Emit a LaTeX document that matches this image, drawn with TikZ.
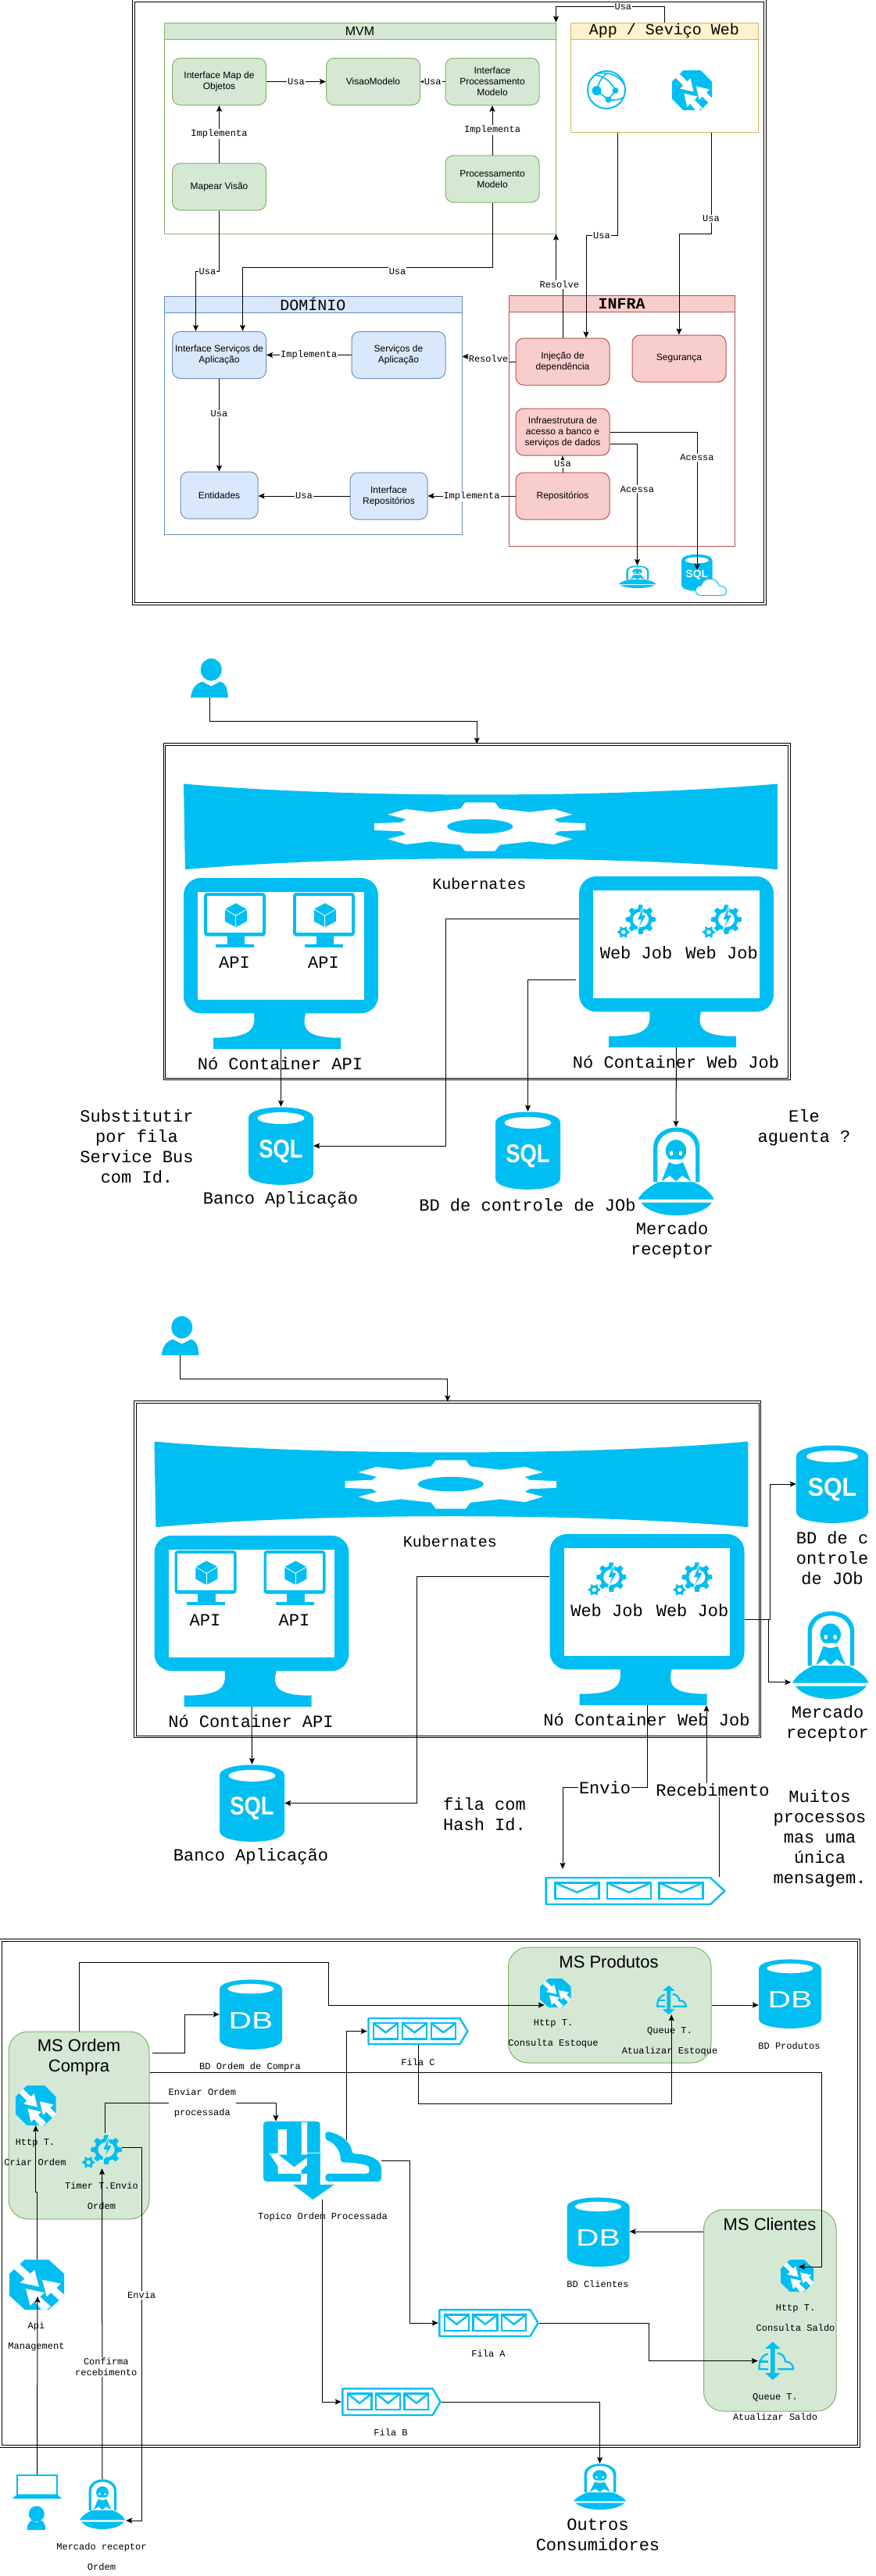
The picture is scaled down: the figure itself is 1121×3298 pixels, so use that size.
\documentclass[tikz,border=0pt]{standalone}
\usepackage{fontspec}
\setmainfont{Liberation Sans}
\setmonofont{Liberation Mono}
\usetikzlibrary{arrows.meta}
\definecolor{iconblue}{HTML}{00BEF2}
\definecolor{greenfill}{HTML}{D5E8D4}
\definecolor{greenline}{HTML}{82B366}
\definecolor{bluefill}{HTML}{DAE8FC}
\definecolor{blueline}{HTML}{6C8EBF}
\definecolor{redfill}{HTML}{F8CECC}
\definecolor{redline}{HTML}{B85450}
\definecolor{yellowfill}{HTML}{FFF2CC}
\definecolor{yellowline}{HTML}{D6B656}
\tikzstyle{every node}+=[inner sep=0pt]
\tikzstyle{line} = [draw, line width=1pt, -{Stealth[length=8pt, width=7pt, inset=1.5pt]}]
\tikzstyle{frame} = [rectangle, draw, line width=1.1pt, double, double distance=1.3pt]
\tikzstyle{block} = [rectangle, draw, line width=1pt, rounded corners=10pt, minimum width=120pt, minimum height=60pt, font=\fontsize{12}{14}\selectfont]
\tikzstyle{greenblock} = [block, fill=greenfill, draw=greenline]
\tikzstyle{blueblock} = [block, fill=bluefill, draw=blueline]
\tikzstyle{redblock} = [block, fill=redfill, draw=redline]
\tikzstyle{lane} = [rectangle, draw, line width=1pt]
\tikzstyle{lanehead} = [lane, minimum height=21pt, font=\ttfamily\fontsize{20}{22}\selectfont]
\tikzstyle{service} = [rectangle, draw=greenline, fill=greenfill, line width=1pt, rounded corners=25pt]
\tikzstyle{servicetxt} = [font=\fontsize{22}{26}\selectfont]
\tikzstyle{icon} = [rectangle]
\tikzstyle{lbl} = [font=\ttfamily\fontsize{12}{14}\selectfont, fill=white, inner sep=1pt]
\tikzstyle{smalltxt} = [font=\ttfamily\fontsize{12}{26}\selectfont]
\tikzstyle{bigtxt} = [font=\ttfamily\fontsize{22}{26}\selectfont]
\newcommand{\iconnode}[6]{%
  \pgfmathsetmacro\iw{#4-#2}\pgfmathsetmacro\ih{#5-#3}%
  \node [icon, minimum width=\iw pt, minimum height=\ih pt] (#1) at ({(#2+#4)/2},{(#3+#5)/2}) {};
  \pic [xscale=\iw/100, yscale=\ih/100] at (#2,#3) {#6};
}
\newcommand{\gearpath}[5]{%
  ({#1+#3*.76*cos(-14)},{#2+#4*.76*sin(-14)})
  \foreach \ga in {#5} {
    -- ({#1+#3*.76*cos(\ga-14)},{#2+#4*.76*sin(\ga-14)})
    -- ({#1+#3*cos(\ga-8)},{#2+#4*sin(\ga-8)})
    -- ({#1+#3*cos(\ga+8)},{#2+#4*sin(\ga+8)})
    -- ({#1+#3*.76*cos(\ga+14)},{#2+#4*.76*sin(\ga+14)})
  } -- cycle
}
\tikzset{
  pics/routericon/.style={code={
    \fill [iconblue] (28,0) -- (72,0) -- (100,28) -- (100,72) -- (72,100) -- (28,100) -- (0,72) -- (0,28) -- cycle;
    \begin{scope}
      \clip (28,0) -- (72,0) -- (100,28) -- (100,72) -- (72,100) -- (28,100) -- (0,72) -- (0,28) -- cycle;
      \fill [white] (6,16) -- (16,6) -- (38,28) -- (46,20) -- (54,54) -- (20,46) -- (28,38) -- cycle;
      \fill [white] (60,40) -- (94,48) -- (86,56) -- (102,72) -- (92,82) -- (76,66) -- (68,74) -- cycle;
      \fill [white] (30,58) -- (64,66) -- (56,74) -- (76,94) -- (62,104) -- (46,84) -- (38,92) -- cycle;
    \end{scope}
  }},
  pics/globeicon/.style={code={
    \draw [iconblue, line width=2pt] (50,50) ellipse [x radius=48, y radius=48];
    \fill [iconblue] (25,52) ellipse [x radius=12, y radius=12];
    \fill [iconblue] (73,52) ellipse [x radius=8, y radius=8];
    \fill [iconblue] (55,75) ellipse [x radius=8, y radius=8];
    \draw [iconblue, line width=1.6pt] (25,52) -- (55,75) .. controls (70,78) and (85,75) .. (92,70);
    \draw [iconblue, line width=1.6pt] (25,52) .. controls (30,35) and (35,20) .. (50,8);
    \draw [iconblue, line width=1.6pt] (20,12) .. controls (50,15) and (65,35) .. (73,52) -- (55,75);
    \draw [iconblue, line width=1.6pt] (30,8) .. controls (60,4) and (85,15) .. (96,38);
  }},
  pics/sqlicon/.style={code={
    \fill [iconblue] (0,14) .. controls (0,-4) and (100,-4) .. (100,14) -- (100,86) .. controls (100,104.5) and (0,104.5) .. (0,86) -- cycle;
    \fill [white] (50,14.5) ellipse [x radius=36, y radius=7.5];
    \node [transform shape, white, font=\bfseries\fontsize{33}{33}\selectfont] (sqlword) at (50,57) {SQL};
  }},
  pics/dbicon/.style={code={
    \fill [iconblue] (0,14) .. controls (0,-4) and (100,-4) .. (100,14) -- (100,86) .. controls (100,104.5) and (0,104.5) .. (0,86) -- cycle;
    \fill [white] (50,13.5) ellipse [x radius=37, y radius=7];
    \node [transform shape, xscale=1.5, white, font=\fontsize{34}{34}\selectfont] (dbword) at (50,59) {DB};
  }},
  pics/sqlcloudicon/.style={code={
    \begin{scope}[xscale=100/173, yscale=100/160, shift={(-277,-30)}]
      \fill [iconblue] (277,52) .. controls (277,22) and (395,22) .. (395,52) -- (395,148) .. controls (395,178) and (277,178) .. (277,148) -- cycle;
      \fill [white] (336,52) ellipse [x radius=45, y radius=12];
      \node [transform shape, white, font=\bfseries\fontsize{41}{41}\selectfont] (sqlword) at (336,110) {SQL};
      \draw [iconblue, fill=white, line width=1pt] (350,188) .. controls (325,188) and (325,150) .. (352,150) .. controls (358,115) and (415,115) .. (420,150) .. controls (455,150) and (458,188) .. (430,188) -- cycle;
    \end{scope}
  }},
  pics/ufoicon/.style={code={
    \begin{scope}[xscale=100/152, yscale=100/337, shift={(-1138,-190)}]
      \fill [iconblue] (1170,400) -- (1170,270) .. controls (1170,165) and (1260,165) .. (1260,270) -- (1260,400) -- cycle;
      \fill [white] (1178,400) -- (1178,275) .. controls (1178,185) and (1252,185) .. (1252,275) -- (1252,400) -- cycle;
      \fill [iconblue] (1214,280) ellipse [x radius=20, y radius=42];
      \fill [iconblue] (1200,325) -- (1228,325) -- (1243,397) -- (1226,375) -- (1214,397) -- (1202,375) -- (1186,397) -- cycle;
      \fill [white] (1205,290) ellipse [x radius=3.5, y radius=9];
      \fill [white] (1223,290) ellipse [x radius=3.5, y radius=9];
      \fill [white] (1197,313) .. controls (1205,338) and (1223,338) .. (1232,313) -- cycle;
      \fill [iconblue] (1140,466) .. controls (1150,430) and (1170,410) .. (1180,400) -- (1248,400) .. controls (1260,410) and (1280,430) .. (1288,466) -- cycle;
      \fill [iconblue] (1146,478) -- (1284,478) .. controls (1270,515) and (1240,527) .. (1214,527) .. controls (1190,527) and (1160,515) .. (1146,478) -- cycle;
    \end{scope}
  }},
  pics/usericon/.style={code={
    \begin{scope}[xscale=100/75, yscale=100/140, shift={(-289,-65)}]
      \fill [iconblue] (330,105) ellipse [x radius=21, y radius=40];
      \fill [iconblue] (289,205) .. controls (292,170) and (300,155) .. (312,148) -- (330,165) -- (348,148) .. controls (360,155) and (362,170) .. (364,205) -- cycle;
    \end{scope}
  }},
  pics/laptopicon/.style={code={
    \begin{scope}[xscale=100/88, yscale=100/211, shift={(-22,-865)}]
      \draw [iconblue, line width=1.6pt] (30,942) -- (30,867) -- (102,867) -- (102,942);
      \fill [iconblue] (30,940) -- (102,940) -- (110,957) -- (22,957) -- cycle;
      \fill [iconblue] (65,1015) ellipse [x radius=14, y radius=30];
      \fill [iconblue] (48,1076) .. controls (48,1055) and (52,1045) .. (56,1040) -- (65,1048) -- (74,1040) .. controls (78,1045) and (81,1055) .. (81,1076) -- cycle;
    \end{scope}
  }},
  pics/queueicon/.style={code={
    \begin{scope}[xscale=100/359, yscale=100/106, shift={(-916,-610)}]
      \draw [iconblue, line width=2.4pt, line join=round] (920,613) -- (1243,613) -- (1271,663) -- (1243,713) -- (920,713) -- cycle;
      \foreach \ex in {938,1040,1142} {
        \draw [iconblue, line width=2.4pt] (\ex,632) rectangle (\ex+86,693);
        \draw [iconblue, line width=2.4pt] (\ex,632) -- (\ex+43,668) -- (\ex+86,632);
      }
    \end{scope}
  }},
  pics/cloudqueueicon/.style={code={
    \fill [iconblue] (41,0) -- (62,18) -- (47,18) -- (47,82) -- (62,82) -- (41,100) -- (20,82) -- (35,82) -- (35,18) -- (20,18) -- cycle;
    \draw [iconblue, line width=2.2pt] (28,32) .. controls (12,34) and (3,50) .. (3,72) -- (28,72);
    \draw [iconblue, line width=2.2pt] (3,52) -- (28,52);
    \draw [iconblue, line width=2.2pt] (54,30) .. controls (68,30) and (76,42) .. (76,52) .. controls (92,52) and (98,62) .. (98,72) -- (54,72);
  }},
  pics/webjobicon/.style={code={
    \fill [iconblue, even odd rule] \gearpath{61}{47}{39}{42}{0,45,90,135,180,225,270,315} (61,47) ellipse [x radius=21, y radius=22];
    \fill [iconblue, even odd rule] \gearpath{16}{83}{16}{17}{0,60,120,180,240,300} (16,83) ellipse [x radius=6, y radius=6];
    \draw [white, line width=.7pt, fill=iconblue] (70,0) -- (52,48) -- (62,48) -- (50,82) -- (76,34) -- (65,34) -- cycle;
  }},
  pics/topicicon/.style={code={
    \begin{scope}[xscale=100/453, yscale=100/301, shift={(-22,-47)}]
      \fill [iconblue, rounded corners=4pt] (22,47) -- (240,47) -- (240,278) -- (22,278) -- cycle;
      \fill [white] (78,78) -- (112,78) -- (112,168) -- (168,168) -- (168,50) -- (190,50) -- (190,168) -- (240,168) -- (168,235) -- (168,248) -- (78,248) -- (78,220) -- (45,170) -- (78,170) -- cycle;
      \fill [iconblue] (112,78) -- (168,78) -- (168,175) -- (205,175) -- (140,222) -- (80,175) -- (112,175) -- cycle;
      \fill [white] (165,248) -- (190,248) -- (190,278) -- (165,278) -- cycle;
      \fill [white] (118,278) -- (310,278) -- (310,292) -- (118,292) -- cycle;
      \fill [iconblue] (190,170) -- (240,170) -- (240,290) -- (295,290) -- (212,348) -- (135,290) -- (190,290) -- cycle;
      \fill [iconblue, rounded corners=4pt] (260,85) .. controls (320,95) and (360,130) .. (362,172) .. controls (420,172) and (475,190) .. (475,240) -- (475,278) -- (260,278) -- (260,248) -- (430,248) -- (430,235) .. controls (425,215) and (390,205) .. (318,205) .. controls (320,160) and (290,125) .. (260,120) -- cycle;
    \end{scope}
  }},
  pics/monitoricon/.style={code={
    \begin{scope}[xscale=100/391, yscale=100/614, shift={(-274,-851)}]
      \fill [iconblue, rounded corners=22pt] (274,851) rectangle (665,1337);
      \fill [white] (303,902) rectangle (636,1288);
      \fill [iconblue] (415,1330) .. controls (420,1395) and (410,1425) .. (334,1425) -- (334,1465) -- (590,1465) -- (590,1425) .. controls (520,1425) and (510,1395) .. (520,1330) -- cycle;
    \end{scope}
  }},
  pics/vmicon/.style={code={
    \begin{scope}[xscale=100/238, yscale=100/210, shift={(-32,-40)}]
      \fill [iconblue, rounded corners=4pt] (32,40) rectangle (270,207);
      \fill [white] (44,52) rectangle (258,193);
      \fill [iconblue] (122,205) rectangle (190,238);
      \fill [iconblue] (78,238) rectangle (226,250);
      \fill [iconblue] (155,80) -- (197,103) -- (197,150) -- (155,172) -- (113,150) -- (113,103) -- cycle;
      \draw [white, line width=.8pt] (113,103) -- (155,128) -- (197,103);
      \draw [white, line width=.8pt] (155,128) -- (155,172);
    \end{scope}
  }},
  pics/bannericon/.style={code={
    \begin{scope}[xscale=100/1192, yscale=100/308, shift={(-274,-514)}]
      \fill [iconblue] (274,514) .. controls (600,566) and (1140,566) .. (1466,514) -- (1466,821) .. controls (1140,769) and (600,769) .. (277,821) -- cycle;
      \fill [white] \gearpath{869}{668}{214}{88}{0,38,90,142,180,218,270,322};
      \fill [iconblue] (869,667) ellipse [x radius=66, y radius=26];
    \end{scope}
  }}
}
\newcommand{\kubecluster}{%
  \node [frame, minimum width=799.5pt, minimum height=428.5pt] (frame) at (610.25,1167.25) {};
  \iconnode{user}{244}{843}{292}{893}{usericon}
  \iconnode{banner}{235}{1003.5}{995}{1113.5}{bannericon}
  \node [font=\ttfamily\fontsize{20}{24}\selectfont] (kubelabel) at (613.5,1131) {Kubernates};
  \iconnode{apihost}{235}{1124}{484}{1343}{monitoricon}
  \iconnode{webhost}{741}{1122}{990}{1341}{monitoricon}
  \iconnode{vma}{261}{1143}{340}{1213}{vmicon}
  \iconnode{vmb}{375}{1143}{454}{1213}{vmicon}
  \node [bigtxt] (apia) at (300,1232) {API};
  \node [bigtxt] (apib) at (414,1232) {API};
  \iconnode{joba}{790}{1156}{839}{1201}{webjobicon}
  \iconnode{jobb}{899}{1156}{949}{1201}{webjobicon}
  \node [bigtxt] (joblabela) at (814,1220) {Web Job};
  \node [bigtxt] (joblabelb) at (923.5,1220) {Web Job};
  \node [bigtxt] (apinode) at (358.5,1362) {Nó Container API};
  \node [bigtxt] (webnode) at (865,1360) {Nó Container Web Job};
  \path [line] (user.south) -- ++(0,30) -| (frame.north);
}
\begin{document}
\begin{tikzpicture}[x=1pt, y=-1pt, every text node part/.style={align=center}]
  \useasboundingbox (0,0) rectangle (1121,3298);
  % Layers
  \node [frame, minimum width=808pt, minimum height=772pt] (layers) at (575,387) {};
  \node [lane, draw=greenline, minimum width=501pt, minimum height=270pt] (mvm) at (460.5,164) {};
  \node [lanehead, draw=greenline, fill=greenfill, minimum width=501pt, font=\fontsize{16}{18}\selectfont] (mvmhead) at (460.5,39.5) {MVM};
  \node [lane, draw=yellowline, minimum width=240pt, minimum height=140pt] (app) at (850,99) {};
  \node [lanehead, draw=yellowline, fill=yellowfill, minimum width=240pt] (apphead) at (850,39.5) {App / Seviço Web};
  \node [lane, draw=blueline, minimum width=381pt, minimum height=305pt] (dominio) at (400.5,531.5) {};
  \node [lanehead, draw=blueline, fill=bluefill, minimum width=381pt] (dominiohead) at (400.5,389.5) {DOMÍNIO};
  \node [lane, draw=redline, minimum width=289pt, minimum height=321pt] (infra) at (795.5,538.5) {};
  \node [lanehead, draw=redline, fill=redfill, minimum width=289pt, font=\ttfamily\bfseries\fontsize{20}{22}\selectfont] (infrahead) at (795.5,388.5) {INFRA};
  % Place nodes
  \node [greenblock] (mapobj) at (280.5,104.5) {Interface Map de\\Objetos};
  \node [greenblock] (visao) at (477.5,104.5) {VisaoModelo};
  \node [greenblock] (intproc) at (630,104.5) {Interface\\Processamento\\Modelo};
  \node [greenblock] (mapear) at (280.5,239) {Mapear Visão};
  \node [greenblock] (proc) at (630,229) {Processamento\\Modelo};
  \node [blueblock] (intserv) at (280.5,454.5) {Interface Serviços de\\Aplicação};
  \node [blueblock] (serv) at (510,454.5) {Serviços de\\Aplicação};
  \node [blueblock, minimum width=99pt] (entidades) at (280.5,634) {Entidades};
  \node [blueblock, minimum width=99pt] (intrepo) at (497.5,635) {Interface\\Repositórios};
  \node [redblock] (injecao) at (720,463) {Injeção de\\dependência};
  \node [redblock] (seguranca) at (869,459) {Segurança};
  \node [redblock] (acesso) at (720,553) {Infraestrutura de\\acesso a banco e\\serviços de dados};
  \node [redblock] (repos) at (720,635) {Repositórios};
  \iconnode{globe}{751}{90}{801}{140}{globeicon}
  \iconnode{router}{860}{90}{911}{141}{routericon}
  \iconnode{ufoinfra}{791}{724}{840}{753}{ufoicon}
  \iconnode{sqlcloud}{872}{710}{930}{763}{sqlcloudicon}
  % Draw edges
  \path [line] (mapobj) -- node [lbl] {Usa} (visao);
  \path [line] (intproc) -- node [lbl] {Usa} (visao);
  \path [line] (mapear) -- node [lbl, pos=.5] {Implementa} (mapobj);
  \path [line] (proc) -- node [lbl, pos=.5] {Implementa} (intproc);
  \path [line] (app.north) -- ++(0,-20) -| node [lbl, pos=.19] {Usa} (mvm.north east);
  \path [line] ([xshift=-60pt]app.south) -- ++(0,132) -| node [lbl, pos=.25] {Usa} ([xshift=30pt]injecao.north);
  \path [line] ([xshift=60pt]app.south) -- node [lbl, pos=.85] {Usa} ++(0,130) -| (seguranca.north);
  \path [line] (mapear.south) -- ++(0,78) -| node [lbl, pos=.25] {Usa} ([xshift=-30pt]intserv.north);
  \path [line] (proc.south) -- ++(0,83) -| node [lbl, pos=.19, yshift=-5pt] {Usa} ([xshift=30pt]intserv.north);
  \path [line] (injecao.north) -- ++(0,-68) -| node [lbl, pos=.25] {Resolve} (mvm.south east);
  \path [line] (serv) -- node [lbl] {Implementa} (intserv);
  \path [line] (intserv) -- node [lbl, pos=.38] {Usa} (entidades);
  \path [line] (intrepo.west) -- node [lbl] {Usa} (intrepo.west -| entidades.east);
  \path [line] (repos) -- node [lbl] {Implementa} (intrepo);
  \path [line] (injecao.west) -- ++(-34.5,0) node [lbl, yshift=4pt] {Resolve} |- ([yshift=75pt]dominio.east);
  \path [line] (repos) -- node [lbl] {Usa} (acesso);
  \path [line] ([yshift=-15pt]acesso.east) -| node [lbl, pos=.687] {Acessa} (ufoinfra.north);
  \path [line] (acesso.east) -| node [lbl, pos=.593] {Acessa} ([xshift=-9pt, yshift=-20pt]sqlcloud.north);

  % First cluster
  \begin{scope}[name prefix=kuba-]
    \kubecluster
  \end{scope}
  \iconnode{bancoa}{318}{1417}{401}{1517}{sqlicon}
  \iconnode{controlea}{634}{1423}{717}{1523}{sqlicon}
  \iconnode{mercadoa}{815}{1443}{915}{1556}{ufoicon}
  \node [bigtxt] (notafila) at (175,1467.5) {Substitutir\\por fila\\Service Bus\\com Id.};
  \node [bigtxt] (bancoalabel) at (359,1536) {Banco Aplicação};
  \node [bigtxt] (controlealabel) at (675,1543) {BD de controle de JOb};
  \node [bigtxt] (mercadoalabel) at (860,1588) {Mercado\\ receptor};
  \node [bigtxt] (notaele) at (1029,1444) {Ele\\aguenta ?};
  \path [line] (kuba-apihost.south) -- (bancoa.north);
  \path [line] ([yshift=55.5pt]kuba-webhost.west) -- ++(-170,0) |- (bancoa.east);
  \path [line] ([xshift=-4pt, yshift=-22.5pt]kuba-webhost.west) -| (controlea.north);
  \path [line] (kuba-webhost.south) -- (mercadoa.north);

  % Second cluster
  \begin{scope}[shift={(-37.5,842)}, name prefix=kubb-]
    \kubecluster
  \end{scope}
  \iconnode{controleb}{1019}{1850}{1111}{1950}{sqlicon}
  \iconnode{mercadob}{1012.5}{2062.5}{1113}{2175}{ufoicon}
  \iconnode{bancob}{281}{2259}{364}{2358}{sqlicon}
  \iconnode{queueb}{696}{2403}{930}{2439}{queueicon}
  \node [bigtxt] (controleblabel) at (1065,1995) {BD de c\\ontrole\\ de JOb};
  \node [bigtxt] (mercadoblabel) at (1059,2207) {Mercado\\ receptor};
  \node [bigtxt] (bancoblabel) at (321,2377) {Banco Aplicação};
  \node [bigtxt] (notahash) at (620,2323) {fila com\\\hspace*{0pt}Hash Id. };
  \node [bigtxt] (notamuitos) at (1049,2353.5) {Muitos\\processos\\mas uma\\única\\mensagem.};
  \path [line] (kubb-webhost.east) -- ++(33,0) |- (controleb.west);
  \path [line] (kubb-webhost.east) -- ++(31,0) |- ([yshift=-35pt]mercadob.west);
  \path [line] (kubb-apihost.south) -- (bancob.north);
  \path [line] ([yshift=55.5pt]kubb-webhost.west) -- ++(-170,0) |- (bancob.east);
  \path [line] (kubb-webhost.south) -- ++(0,105) -| node [pos=.25, lbl, font=\ttfamily\fontsize{22}{26}\selectfont] {Envio} ([xshift=-93pt, yshift=10pt]queueb.north);
  \path [line] ([xshift=107pt]queueb.north) -- ++(0,-111) -- node [lbl, font=\ttfamily\fontsize{22}{26}\selectfont] {Recebimento} ++(-16,0) -- ([xshift=76pt]kubb-webhost.south);

  % Microservices
  \node [frame, minimum width=1098pt, minimum height=648pt] (micro) at (550,2808) {};
  \node [service, minimum width=259.5pt, minimum height=148pt] (msprodutos) at (780.25,2567) {};
  \node [service, minimum width=180pt, minimum height=240pt] (msordem) at (101,2721) {};
  \node [service, minimum width=169.5pt, minimum height=258pt] (msclientes) at (985.25,2958) {};
  \node [servicetxt] (msprodlabel) at (779,2512) {MS Produtos};
  \node [servicetxt] (msordlabel) at (101,2634) {MS Ordem\\Compra};
  \node [servicetxt] (mscliabel) at (985,2848) {MS Clientes};
  \iconnode{dbordem}{281}{2534}{361}{2624}{dbicon}
  \iconnode{dbprodutos}{971}{2508}{1051}{2597}{dbicon}
  \iconnode{dbclientes}{725.5}{2813}{805.5}{2902}{dbicon}
  \iconnode{filac}{470}{2583}{600}{2618}{queueicon}
  \iconnode{filaa}{561}{2956}{690}{2992}{queueicon}
  \iconnode{filab}{437}{3057}{565}{3093}{queueicon}
  \iconnode{httpprod}{691}{2533}{730.5}{2570}{routericon}
  \iconnode{queueprod}{840}{2542}{878.5}{2579}{cloudqueueicon}
  \iconnode{httpordem}{20}{2670}{71.5}{2721}{routericon}
  \iconnode{timer}{105}{2731}{156}{2776}{webjobicon}
  \iconnode{topico}{337}{2716}{488}{2816}{topicicon}
  \iconnode{apimgmt}{12}{2893}{82}{2957}{routericon}
  \iconnode{httpcli}{999}{2893}{1041}{2934}{routericon}
  \iconnode{queuecli}{970}{2998}{1016}{3047}{cloudqueueicon}
  \iconnode{laptop}{16}{3168}{79}{3239}{laptopicon}
  \iconnode{mercadoc}{101}{3174}{161}{3238}{ufoicon}
  \iconnode{outros}{733}{3154}{802}{3213}{ufoicon}
  \node [smalltxt] (dbordemlabel) at (320,2646) {BD Ordem de Compra};
  \node [smalltxt] (dbprodlabel) at (1010,2619) {BD Produtos};
  \node [smalltxt] (dbclilabel) at (765,2924) {BD Clientes};
  \node [smalltxt] (filaclabel) at (535,2640) {Fila C};
  \node [smalltxt] (filaalabel) at (625,3013) {Fila A};
  \node [smalltxt] (filablabel) at (500,3114) {Fila B};
  \node [smalltxt] (httpprodlabel) at (708,2604) {Http T.\\Consulta Estoque};
  \node [smalltxt] (queueprodlabel) at (857,2614) {Queue T.\\Atualizar Estoque};
  \node [smalltxt] (httpordemlabel) at (45,2756) {Http T.\\Criar Ordem};
  \node [smalltxt] (timerlabel) at (130,2811) {Timer T.Envio\\Ordem};
  \node [smalltxt] (topicolabel) at (413,2838) {Topico Ordem Processada};
  \node [smalltxt] (apilabel) at (46.5,2991) {Api\\Management};
  \node [smalltxt] (httpclilabel) at (1018,2968) {Http T.\\Consulta Saldo};
  \node [smalltxt] (queueclilabel) at (992,3082) {Queue T.\\Atualizar Saldo};
  \node [smalltxt] (mercadoclabel) at (130,3273) {Mercado receptor\\Ordem};
  \node [bigtxt] (outroslabel) at (765,3245) {Outros\\Consumidores};
  \coordinate (cliout) at ([yshift=101pt]msclientes.west);
  \path [line] (msordem.north) -- ++(0,-88) -- ++(319,0) |- ([xshift=-14pt, yshift=-15.5pt]httpprod.center);
  \path [line] ([xshift=3pt, yshift=93pt]msordem.east) -- ++(42,0) |- (dbordem.west);
  \path [line] (msprodutos.east) -- (msprodutos.east -| dbprodutos.west);
  \path [line] ([yshift=68pt]msordem.east) -- ++(860,0) |- ([xshift=2pt, yshift=11.5pt]httpcli.center);
  \path [line] (filac.south) -- ++(0,75) -| (queueprod.south);
  \path [line] ([xshift=3.5pt]timer.north) -- ++(0,-38) -| node [smalltxt, pos=.285, fill=white] {Enviar Ordem\\processada} ([xshift=-59.5pt]topico.north);
  \path [line] ([xshift=30.5pt, yshift=26pt]topico.center) |- (filac.west);
  \path [line] (topico.east) -- ++(36,0) |- (filaa.west);
  \path [line] (topico.south) |- (filab.west);
  \path [line] (filaa.east) -- ++(140.5,0) |- (queuecli.west);
  \path [line] (filab.east) -| (outros.north);
  \path [line] (cliout) -- (cliout -| dbclientes.east);
  \path [line] (laptop.north) -- ([xshift=1pt, yshift=-15pt]apimgmt.center);
  \path [line] (apimgmt.north) -- ++(0,-86) -| (httpordem.south);
  \path [line] (mercadoc.north) -- node [lbl, pos=.36, xshift=5pt] {Confirma\\recebimento} (timer.south);
  \path [line] ([yshift=4.5pt]timer.east) -- ++(25,0) |- node [lbl, pos=.198] {Envia} ([yshift=-21pt]mercadoc.east);
\end{tikzpicture}
\end{document}
